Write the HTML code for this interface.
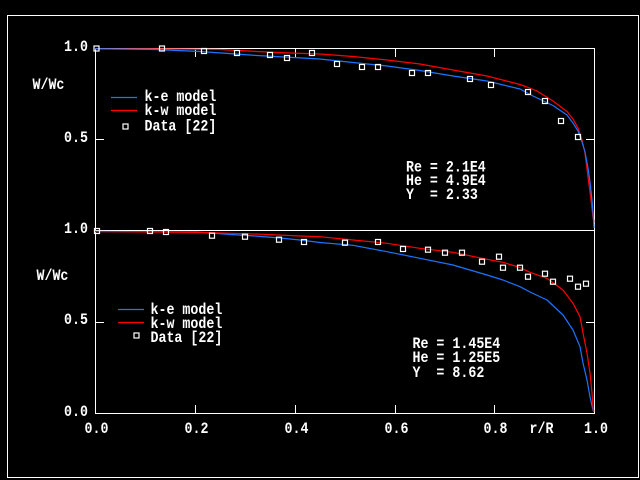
<!DOCTYPE html>
<html><head><meta charset="utf-8"><style>
html,body{margin:0;padding:0;background:#000;}
svg{display:block;}
text{font-family:"Liberation Mono",monospace;font-size:13.3px;font-weight:bold;fill:#fff;}
</style></head><body>
<svg width="640" height="480" viewBox="0 0 640 480" xmlns="http://www.w3.org/2000/svg">
<rect x="0" y="0" width="640" height="480" fill="#000"/>
<rect x="7.5" y="15.5" width="631" height="462" fill="none" stroke="#fff" stroke-width="1"/>
<g stroke="#fff" stroke-width="1" fill="none" shape-rendering="crispEdges">
<rect x="95.5" y="48.5" width="499" height="365"/>
<line x1="95" y1="230.5" x2="595" y2="230.5"/>
<line x1="195.5" y1="48" x2="195.5" y2="57"/>
<line x1="295.5" y1="48" x2="295.5" y2="57"/>
<line x1="395.5" y1="48" x2="395.5" y2="57"/>
<line x1="494.5" y1="48" x2="494.5" y2="57"/>
<line x1="195.5" y1="405" x2="195.5" y2="413"/>
<line x1="295.5" y1="405" x2="295.5" y2="413"/>
<line x1="395.5" y1="405" x2="395.5" y2="413"/>
<line x1="494.5" y1="405" x2="494.5" y2="413"/>
<line x1="95" y1="139.5" x2="104" y2="139.5"/>
<line x1="586" y1="139.5" x2="594" y2="139.5"/>
<line x1="95" y1="322.5" x2="104" y2="322.5"/>
<line x1="586" y1="322.5" x2="594" y2="322.5"/>
</g>
<g fill="none" stroke-width="1.2" stroke-linejoin="round">
<polyline stroke="#ff0000" points="95,48.8 150,48.8 220,49.5 257,51.5 290,53 320,54 353,56.5 387,60 420,64 453,70 487,76 520,84.5 527,87 537,91 553,101 567,111.5 573,119 578,128 582,140 585,153 588,177 591,200 593,217 594,222"/>
<polyline stroke="#1a75ff" points="95,48.8 155,49.5 200,51.5 257,55.5 320,59 353,62.5 387,66 420,70.5 453,76 487,81 520,89 533,96 553,105.5 567,115 573,123 578,131 582,142 585,152 588,168 590,182 592,200 593,212 594,228"/>
<polyline stroke="#1a75ff" points="95,231.5 197,232 231,234.5 255,236 280,238 300,240 320,242.5 353,245.3 387,251.7 420,258.3 453,265 470,270 487,275 503,280 520,286.7 530,292 547,300 563,315 573,330 580,346.7 583,363 587,380 590,396.7 593,410 594,412"/>
<polyline stroke="#ff0000" points="95,231.5 207,232.5 263,234.3 300,236 320,236.7 353,240 387,243.3 420,248.3 453,252.3 487,259.3 503,262.3 520,267.5 530,272.3 547,278.3 563,290 573,303.3 580,316.7 583,333 587,353 590,373 592,393 593.3,410 594,411"/>
<line x1="111" y1="97.5" x2="137" y2="97.5" stroke="#1a75ff"/>
<line x1="111" y1="110.5" x2="137" y2="110.5" stroke="#ff0000"/>
<line x1="118" y1="309.5" x2="144" y2="309.5" stroke="#1a75ff"/>
<line x1="118" y1="322.5" x2="144" y2="322.5" stroke="#ff0000"/>
</g>
<g fill="none" stroke="#fff" stroke-width="1.2">
<rect x="123" y="124" width="5" height="5"/>
<rect x="134" y="333" width="5" height="5"/>
<rect x="94" y="46" width="5" height="5"/>
<rect x="159.5" y="46" width="5" height="5"/>
<rect x="201.5" y="48.5" width="5" height="5"/>
<rect x="234.5" y="50.5" width="5" height="5"/>
<rect x="267.5" y="52.5" width="5" height="5"/>
<rect x="284.5" y="55.5" width="5" height="5"/>
<rect x="309.5" y="50.5" width="5" height="5"/>
<rect x="334.5" y="61.5" width="5" height="5"/>
<rect x="359.5" y="64.5" width="5" height="5"/>
<rect x="375.5" y="64.5" width="5" height="5"/>
<rect x="409.5" y="70.5" width="5" height="5"/>
<rect x="425.5" y="70.5" width="5" height="5"/>
<rect x="467.5" y="76.5" width="5" height="5"/>
<rect x="488.5" y="82.5" width="5" height="5"/>
<rect x="525.5" y="89.5" width="5" height="5"/>
<rect x="542.5" y="98.5" width="5" height="5"/>
<rect x="558.5" y="118.5" width="5" height="5"/>
<rect x="575.5" y="134.5" width="5" height="5"/>
<rect x="94.5" y="228.5" width="5" height="5"/>
<rect x="147.5" y="228.5" width="5" height="5"/>
<rect x="163.5" y="229.5" width="5" height="5"/>
<rect x="209.5" y="233.2" width="5" height="5"/>
<rect x="242.5" y="234.2" width="5" height="5"/>
<rect x="276.5" y="237.2" width="5" height="5"/>
<rect x="301.5" y="239.5" width="5" height="5"/>
<rect x="342.5" y="240.2" width="5" height="5"/>
<rect x="375.5" y="239.5" width="5" height="5"/>
<rect x="400.5" y="246.5" width="5" height="5"/>
<rect x="425.5" y="247.2" width="5" height="5"/>
<rect x="442.5" y="250.2" width="5" height="5"/>
<rect x="459.5" y="250.2" width="5" height="5"/>
<rect x="479.5" y="259.2" width="5" height="5"/>
<rect x="496.5" y="254.2" width="5" height="5"/>
<rect x="500.5" y="265.2" width="5" height="5"/>
<rect x="517.5" y="265.2" width="5" height="5"/>
<rect x="525.5" y="274.2" width="5" height="5"/>
<rect x="542.5" y="271.2" width="5" height="5"/>
<rect x="550.5" y="279.2" width="5" height="5"/>
<rect x="567.5" y="276.2" width="5" height="5"/>
<rect x="575.5" y="284.2" width="5" height="5"/>
<rect x="583.5" y="281.2" width="5" height="5"/>
</g>
<text text-anchor="end" transform="translate(88,51) scale(1,1.15)">1.0</text>
<text text-anchor="end" transform="translate(88,142) scale(1,1.15)">0.5</text>
<text text-anchor="end" transform="translate(88,233) scale(1,1.15)">1.0</text>
<text text-anchor="end" transform="translate(88,324) scale(1,1.15)">0.5</text>
<text text-anchor="end" transform="translate(88,416) scale(1,1.15)">0.0</text>
<text text-anchor="middle" transform="translate(96.5,433) scale(1,1.15)">0.0</text>
<text text-anchor="middle" transform="translate(196.5,433) scale(1,1.15)">0.2</text>
<text text-anchor="middle" transform="translate(296.5,433) scale(1,1.15)">0.4</text>
<text text-anchor="middle" transform="translate(396.5,433) scale(1,1.15)">0.6</text>
<text text-anchor="middle" transform="translate(495.5,433) scale(1,1.15)">0.8</text>
<text text-anchor="middle" transform="translate(541.5,433) scale(1,1.15)">r/R</text>
<text text-anchor="middle" transform="translate(596,433) scale(1,1.15)">1.0</text>
<text transform="translate(32.5,89) scale(1,1.15)">W/Wc</text>
<text transform="translate(36.5,280) scale(1,1.15)">W/Wc</text>
<text transform="translate(144.5,101) scale(1,1.15)">k-e model</text>
<text transform="translate(144.5,115) scale(1,1.15)">k-w model</text>
<text transform="translate(144.5,130.5) scale(1,1.15)">Data [22]</text>
<text transform="translate(150.5,314) scale(1,1.15)">k-e model</text>
<text transform="translate(150.5,328) scale(1,1.15)">k-w model</text>
<text transform="translate(150.5,342) scale(1,1.15)">Data [22]</text>
<text xml:space="preserve" transform="translate(406,171.5) scale(1,1.15)">Re = 2.1E4</text>
<text xml:space="preserve" transform="translate(406,185) scale(1,1.15)">He = 4.9E4</text>
<text xml:space="preserve" transform="translate(406,199) scale(1,1.15)">Y  = 2.33</text>
<text xml:space="preserve" transform="translate(412.5,348) scale(1,1.15)">Re = 1.45E4</text>
<text xml:space="preserve" transform="translate(412.5,362) scale(1,1.15)">He = 1.25E5</text>
<text xml:space="preserve" transform="translate(412.5,377) scale(1,1.15)">Y  = 8.62</text>
</svg>
</body></html>
